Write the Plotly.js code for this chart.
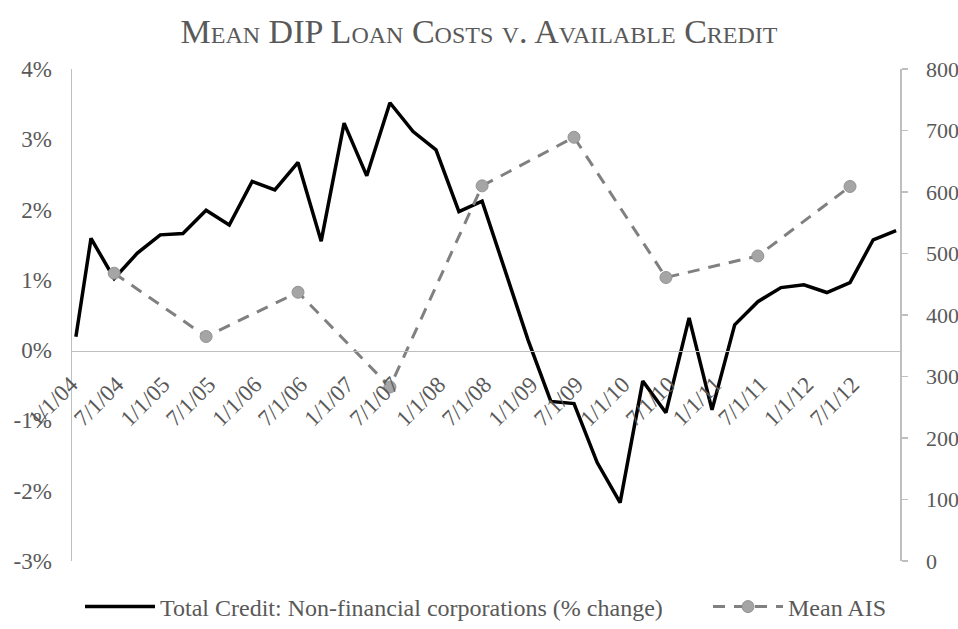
<!DOCTYPE html>
<html>
<head>
<meta charset="utf-8">
<script src="https://cdn.plot.ly/plotly-3.0.1.min.js"></script>
<style>
html,body{margin:0;padding:0;background:#fff;}
#chart{width:958px;height:629px;}
</style>
</head>
<body>
<div id="chart"></div>
<script>
// Total Credit: Non-financial corporations (% change)
var creditDates = ['2004-01','2004-03','2004-06','2004-09','2004-12',
  '2005-03','2005-06','2005-09','2005-12',
  '2006-03','2006-06','2006-09','2006-12',
  '2007-03','2007-06','2007-09','2007-12',
  '2008-03','2008-06','2008-09','2008-12',
  '2009-03','2009-06','2009-09','2009-12',
  '2010-03','2010-06','2010-09','2010-12',
  '2011-03','2011-06','2011-09','2011-12',
  '2012-03','2012-06','2012-09','2012-12'];
var creditValues = [0.19, 1.59, 1.02, 1.38, 1.64,
  1.66, 1.99, 1.78, 2.40,
  2.28, 2.67, 1.55, 3.23,
  2.48, 3.52, 3.11, 2.85,
  1.97, 2.12, 1.12, 0.14,
  -0.73, -0.76, -1.60, -2.17,
  -0.44, -0.89, 0.46, -0.85,
  0.36, 0.69, 0.89, 0.93,
  0.82, 0.96, 1.57, 1.70];

// Mean AIS (right axis)
var aisDates = ['2004-06','2005-06','2006-06','2007-06','2008-06','2009-06','2010-06','2011-06','2012-06'];
var aisValues = [468, 365, 437, 283, 610, 689, 461, 496, 609];

// Tick labels
var xTickVals = ['2004-01-01','2004-07-01','2005-01-01','2005-07-01','2006-01-01','2006-07-01',
  '2007-01-01','2007-07-01','2008-01-01','2008-07-01','2009-01-01','2009-07-01',
  '2010-01-01','2010-07-01','2011-01-01','2011-07-01','2012-01-01','2012-07-01'];
var xTickText = ['1/1/04','7/1/04','1/1/05','7/1/05','1/1/06','7/1/06',
  '1/1/07','7/1/07','1/1/08','7/1/08','1/1/09','7/1/09',
  '1/1/10','7/1/10','1/1/11','7/1/11','1/1/12','7/1/12'];
var yTickVals = [-3, -2, -1, 0, 1, 2, 3, 4];
var yTickText = ['-3%','-2%','-1%','0%','1%','2%','3%','4%'];
var y2TickVals = [0, 100, 200, 300, 400, 500, 600, 700, 800];

var serif = 'Liberation Serif, Times New Roman, serif';
var textGray = '#595959';
var axisGray = '#BFBFBF';

var traces = [
  {
    x: creditDates, y: creditValues, type: 'scatter', mode: 'lines',
    name: 'Total Credit: Non-financial corporations (% change)',
    line: {color: '#000000', width: 3.5},
    xaxis: 'x', yaxis: 'y', legend: 'legend'
  },
  {
    x: aisDates, y: aisValues, type: 'scatter', mode: 'lines+markers',
    name: 'Mean AIS',
    line: {color: '#808080', width: 3, dash: '12px,9px'},
    marker: {color: '#A5A5A5', size: 12, line: {color: '#939393', width: 1}},
    xaxis: 'x', yaxis: 'y2', legend: 'legend2'
  }
];

var legendFont = {family: serif, size: 24, color: textGray};

var layout = {
  width: 958, height: 629,
  margin: {l: 72, r: 58, t: 69, b: 68, pad: 0},
  paper_bgcolor: '#ffffff', plot_bgcolor: '#ffffff',
  showlegend: true,
  title: {
    text: 'Mean DIP Loan Costs v. Available Credit',
    font: {family: serif, size: 34, color: textGray, variant: 'small-caps'},
    x: 0.5, xanchor: 'center', y: 1 - 31/629, yanchor: 'middle', yref: 'container'
  },
  xaxis: {
    type: 'date',
    range: ['2003-12-16 12:00', '2012-12-16 12:00'],
    anchor: 'free', position: (561 - 350.5) / 492,
    color: textGray,
    showline: true, linecolor: axisGray, linewidth: 1.5,
    showgrid: false, zeroline: false,
    ticks: '',
    tickmode: 'array', tickvals: xTickVals, ticktext: xTickText,
    tickangle: -45,
    tickfont: {family: serif, size: 23, color: textGray},
    ticklabelstandoff: 10, ticklabelshift: -5,
    ticklabeloverflow: 'allow',
    automargin: false
  },
  yaxis: {
    range: [-3, 4],
    color: textGray,
    showline: true, linecolor: axisGray, linewidth: 1.5,
    showgrid: false, zeroline: false,
    ticks: '',
    tickmode: 'array', tickvals: yTickVals, ticktext: yTickText,
    tickfont: {family: serif, size: 23, color: textGray},
    ticklabelstandoff: 14, ticklabeloverflow: 'allow', automargin: false
  },
  yaxis2: {
    range: [0, 800], overlaying: 'y', side: 'right', anchor: 'x',
    color: textGray,
    showline: true, linecolor: axisGray, linewidth: 1.5,
    showgrid: false, zeroline: false,
    ticks: 'outside', ticklen: 6, tickcolor: axisGray, tickwidth: 1.5,
    tickmode: 'array', tickvals: y2TickVals,
    tickfont: {family: serif, size: 22, color: textGray},
    ticklabelstandoff: 14, ticklabeloverflow: 'allow', automargin: false
  },
  legend: {
    orientation: 'h', xref: 'container', yref: 'container',
    x: 80 / 958, xanchor: 'left', y: 1 - 607 / 629, yanchor: 'middle',
    font: legendFont, itemwidth: 70, bgcolor: 'rgba(0,0,0,0)'
  },
  legend2: {
    orientation: 'h', xref: 'container', yref: 'container',
    x: 708 / 958, xanchor: 'left', y: 1 - 607 / 629, yanchor: 'middle',
    font: legendFont, itemwidth: 70, bgcolor: 'rgba(0,0,0,0)'
  }
};

Plotly.newPlot('chart', traces, layout, {displayModeBar: false, staticPlot: true});
</script>
</body>
</html>
